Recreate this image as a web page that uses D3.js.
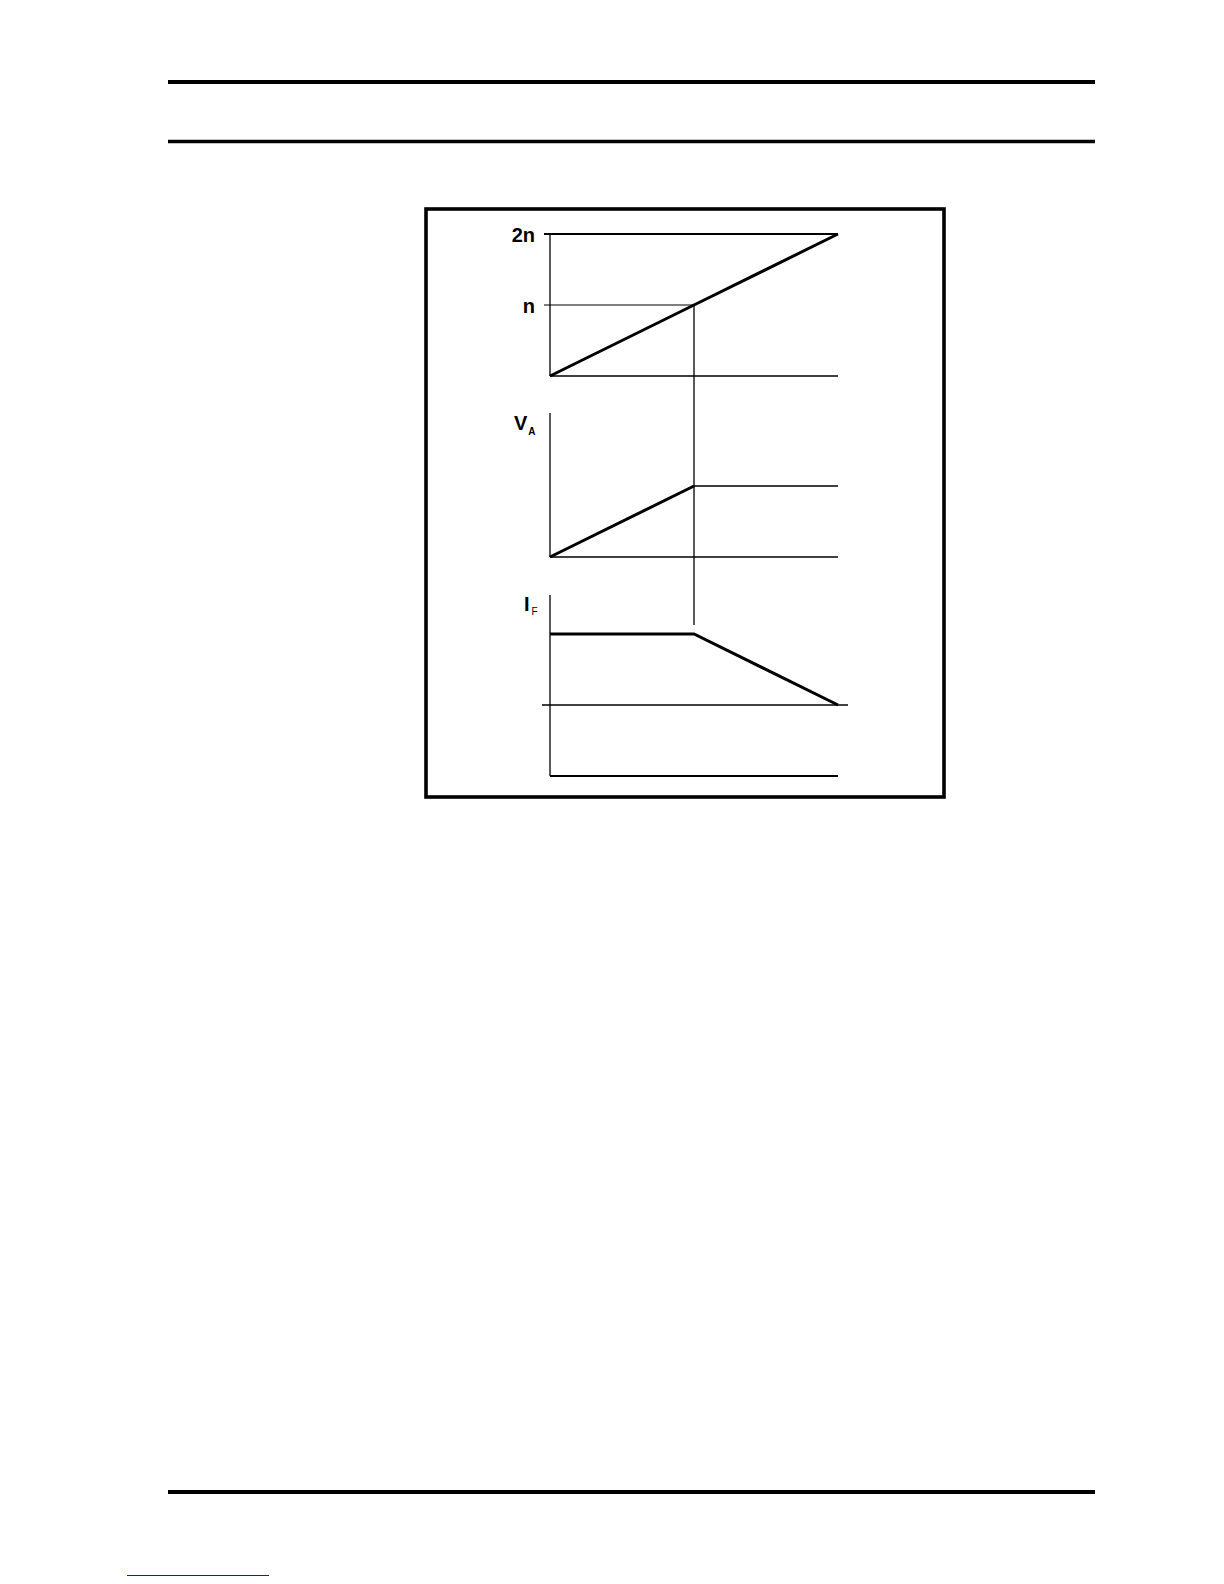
<!DOCTYPE html>
<html>
<head>
<meta charset="utf-8">
<script src="https://cdn.jsdelivr.net/npm/d3@7"></script>
<style>
    body { margin: 0; background: #fff; }
    text { font-family: "Liberation Sans", Arial, sans-serif; }
</style>
</head>
<body>
<div id="chart-area"></div>
<script>
/*
*    speed / armature voltage / field current diagram
*/
// time axis, shared by the three panels (0 .. base speed .. end)
var timeSteps = [0, 1, 2];
// motor speed, in units of n
var speedValues = [0, 1, 2];
var speedTicks = [1, 2];
var speedTickLabels = ["n", "2n"];
// armature voltage V_A
var armatureVoltage = [0, 1, 1];
// field current I_F
var fieldCurrent = [1, 1, 0];

var width = 1224, height = 1584;

var svg = d3.select("#chart-area")
    .append("svg")
        .attr("width", width)
        .attr("height", height);

// page rules
[82, 141.5, 1492].forEach(function(yPos, i){
    svg.append("line")
        .attr("x1", 168).attr("x2", 1095)
        .attr("y1", yPos).attr("y2", yPos)
        .attr("stroke", "#000")
        .attr("stroke-width", i == 1 ? 3.5 : 4);
});

// link underline at the foot of the page
svg.append("line")
    .attr("x1", 127).attr("x2", 269)
    .attr("y1", 1575.5).attr("y2", 1575.5)
    .attr("stroke", "#1a1a9c")
    .attr("stroke-width", 1);

// frame
svg.append("rect")
    .attr("x", 426).attr("y", 209)
    .attr("width", 518).attr("height", 588)
    .attr("fill", "none")
    .attr("stroke", "#000")
    .attr("stroke-width", 3.6);

// Scales
var x = d3.scaleLinear().domain([0, 2]).range([550, 838]);
var ySpeed = d3.scaleLinear().domain([0, 2]).range([376, 234]);
var yVolt = d3.scaleLinear().domain([0, 2]).range([557, 415]);
var yField = d3.scaleLinear().domain([-1, 1]).range([776, 634]);

var g = svg.append("g");

function hLine(x1, x2, yPos, w) {
    g.append("line")
        .attr("x1", x1).attr("x2", x2)
        .attr("y1", yPos).attr("y2", yPos)
        .attr("stroke", "#000")
        .attr("stroke-width", w);
}
function vLine(xPos, y1, y2, w) {
    g.append("line")
        .attr("x1", xPos).attr("x2", xPos)
        .attr("y1", y1).attr("y2", y2)
        .attr("stroke", "#000")
        .attr("stroke-width", w);
}
function curve(xs, ys, yScale, w) {
    var pts = xs.map(function(d, i){ return [x(d), yScale(ys[i])]; });
    g.append("path")
        .attr("d", d3.line()(pts))
        .attr("fill", "none")
        .attr("stroke", "#000")
        .attr("stroke-width", w)
        .attr("stroke-linejoin", "miter");
}

// ---- Panel 1: speed
vLine(x(0), ySpeed(2) - 1, ySpeed(0), 1.3);
hLine(x(0), x(2), ySpeed(0), 1.3);
// 2n and n reference lines
hLine(x(0) - 6, x(2), ySpeed(speedTicks[1]), 2.2);
hLine(x(0) - 6, x(1), ySpeed(speedTicks[0]), 1.2);
curve(timeSteps, speedValues, ySpeed, 3);

speedTicks.forEach(function(v, i){
    g.append("text")
        .attr("x", 535)
        .attr("y", ySpeed(v) + (i == 1 ? 7.5 : 8))
        .attr("text-anchor", "end")
        .attr("font-size", "20px")
        .attr("font-weight", "bold")
        .text(speedTickLabels[i]);
});

// ---- Panel 2: armature voltage
vLine(x(0), 413, yVolt(0), 1.3);
hLine(x(0), x(2), yVolt(0), 1.3);
curve(timeSteps.slice(0, 2), armatureVoltage.slice(0, 2), yVolt, 3);
hLine(x(1), x(2), yVolt(armatureVoltage[2]), 1.3);

var vaLabel = g.append("text")
    .attr("x", 514)
    .attr("y", 430)
    .attr("font-size", "20px")
    .attr("font-weight", "bold");
vaLabel.append("tspan").text("V");
vaLabel.append("tspan")
    .attr("font-size", "10px")
    .attr("dx", 1)
    .attr("dy", 5)
    .text("A");

// ---- Panel 3: field current
vLine(x(0), 595, yField(-1), 1.3);
hLine(x(0), x(2), yField(-1), 2.2);
hLine(x(0) - 8, x(2) + 10, yField(0), 1.3);
curve(timeSteps, fieldCurrent, yField, 3);

var ifLabel = g.append("text")
    .attr("x", 524)
    .attr("y", 611)
    .attr("font-size", "20px")
    .attr("font-weight", "bold");
ifLabel.append("tspan").text("I");
ifLabel.append("tspan")
    .attr("font-size", "10px")
    .attr("font-weight", "normal")
    .attr("dx", 2)
    .attr("dy", 4)
    .text("F");

// link from base speed down through the panels
vLine(x(1), ySpeed(1), yField(fieldCurrent[1]) - 9, 1.3);
</script>
</body>
</html>
